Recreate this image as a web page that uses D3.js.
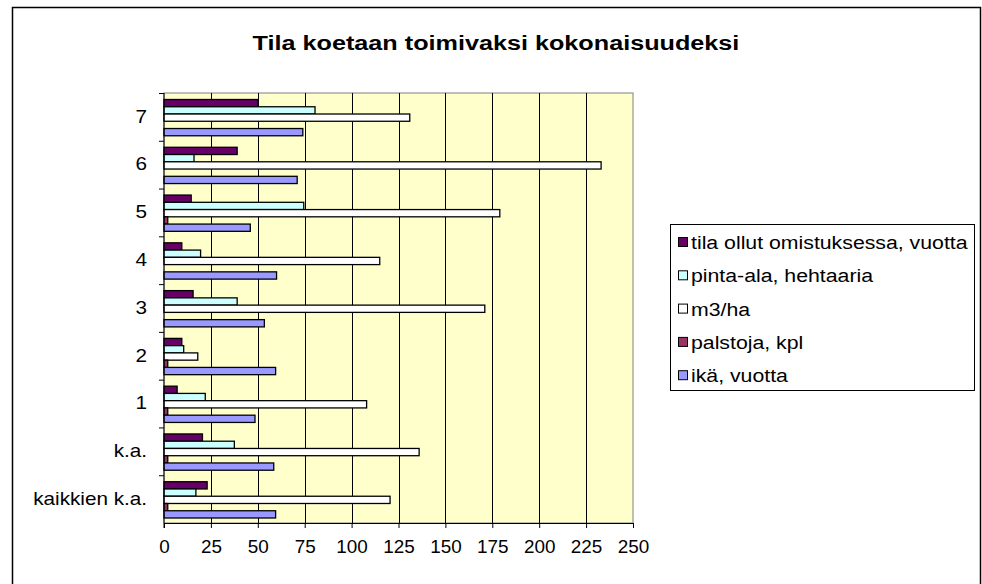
<!DOCTYPE html>
<html>
<head>
<meta charset="utf-8">
<script src="https://cdn.jsdelivr.net/npm/d3@7"></script>
<style>
  body { margin: 0; background: #fff; }
  svg text { font-family: "Liberation Sans", Arial, sans-serif; fill: #000; }
</style>
</head>
<body>
<svg id="chart" width="982" height="584"></svg>
<script>
//Categories, top to bottom as drawn
var categories = ["7", "6", "5", "4", "3", "2", "1", "k.a.", "kaikkien k.a."];

//Series values, one per category (null = no bar)
var tilaOllut = [50, 39, 14.5, 9.5, 15.5, 9.5, 7, 20.5, 23];
var pintaAla = [80.5, 16, 74.5, 19.5, 39, 10.5, 22, 37.5, 17];
var m3ha = [131, 233, 179, 115, 171, 18, 108, 136, 120.5];
var palstoja = [null, null, 2, null, null, 2, 2, 2, 2];
var ika = [74, 71, 46, 60, 53.5, 59.5, 48.5, 58.5, 59.5];

//Series names, top to bottom inside each group (also the legend order)
var seriesNames = ["tila ollut omistuksessa, vuotta", "pinta-ala, hehtaaria", "m3/ha", "palstoja, kpl", "ikä, vuotta"];
var seriesValues = [tilaOllut, pintaAla, m3ha, palstoja, ika];
var seriesColors = ["#660066", "#ccffff", "#ffffff", "#993366", "#9999ff"];

//Tick labels for the value axis
var xTicks = [0, 25, 50, 75, 100, 125, 150, 175, 200, 225, 250];

(function(){
    var svg = d3.select("#chart");

    //Plot area
    var pLeft = 164, pRight = 633, pTop = 93, pBottom = 523;

    //The original picture is a bit stretched sideways, so stretch the text too
    var stretch = function(sel, sx){
        sel.attr("transform", function(){
            var tx = +this.getAttribute("x") || 0;
            return "translate(" + tx + ",0) scale(" + sx + ",1) translate(" + (-tx) + ",0)";
        });
    };

    //Outer chart frame
    svg.append("rect")
        .attr("x", 12.5).attr("y", 7.5)
        .attr("width", 968).attr("height", 590)
        .attr("fill", "#fff").attr("stroke", "#000").attr("stroke-width", 1.5);

    //Title
    svg.append("text")
        .attr("x", 496).attr("y", 50)
        .attr("text-anchor", "middle")
        .style("font-size", "21px").style("font-weight", "bold")
        .text("Tila koetaan toimivaksi kokonaisuudeksi")
        .call(stretch, 1.2);

    var x = d3.scaleLinear().domain([0, 250]).range([pLeft, pRight]);
    var y0 = d3.scaleBand().domain(categories).range([pTop, pBottom]);
    var y1 = d3.scaleBand().domain(seriesNames).range([6.5, y0.bandwidth() - 5]);

    //Background of the plot
    svg.append("rect")
        .attr("x", pLeft).attr("y", pTop)
        .attr("width", pRight - pLeft).attr("height", pBottom - pTop)
        .attr("fill", "#ffffcc").attr("stroke", "#808080");

    //Vertical gridlines
    svg.append("g").selectAll("line")
        .data(xTicks.slice(1, -1))
        .join("line")
        .attr("x1", function(d){ return Math.round(x(d)) + 0.5; })
        .attr("x2", function(d){ return Math.round(x(d)) + 0.5; })
        .attr("y1", pTop).attr("y2", pBottom)
        .attr("stroke", "#000");

    //Bars
    var groups = svg.append("g").selectAll("g")
        .data(categories)
        .join("g")
        .attr("transform", function(d){ return "translate(0," + y0(d) + ")"; });

    groups.selectAll("rect")
        .data(function(c, i){
            return seriesNames.map(function(s, k){
                return { series: s, value: seriesValues[k][i], color: seriesColors[k] };
            }).filter(function(d){ return d.value != null; });
        })
        .join("rect")
        .attr("x", x(0))
        .attr("y", function(d){ return y1(d.series); })
        .attr("width", function(d){ return x(d.value) - x(0); })
        .attr("height", y1.bandwidth())
        .attr("fill", function(d){ return d.color; })
        .attr("stroke", "#000").attr("stroke-width", 1.3);

    //Value axis
    var xAxis = svg.append("g")
        .attr("transform", "translate(0," + pBottom + ")")
        .call(d3.axisBottom(x).tickValues(xTicks).tickSize(5).tickPadding(12));
    xAxis.selectAll("text").style("font-size", "18px").call(stretch, 1.05);
    xAxis.select(".domain").attr("stroke", "#000");

    //Category axis
    var yAxis = svg.append("g")
        .attr("transform", "translate(" + pLeft + ",0)")
        .call(d3.axisLeft(y0).tickSize(0).tickPadding(17));
    yAxis.selectAll("text").style("font-size", "18px").call(stretch, 1.15);
    yAxis.select(".domain").remove();
    yAxis.append("line")
        .attr("x1", 0).attr("x2", 0).attr("y1", pTop).attr("y2", pBottom + 5)
        .attr("stroke", "#000");
    yAxis.selectAll(".bandTick")
        .data(categories)
        .join("line")
        .attr("class", "bandTick")
        .attr("x1", -5).attr("x2", 0)
        .attr("y1", function(d){ return y0(d) + 0.5; })
        .attr("y2", function(d){ return y0(d) + 0.5; })
        .attr("stroke", "#000");

    //Legend
    var legend = svg.append("g");
    legend.append("rect")
        .attr("x", 670.5).attr("y", 224.5)
        .attr("width", 304).attr("height", 166)
        .attr("fill", "#fff").attr("stroke", "#000");

    var items = legend.selectAll("g.item")
        .data(seriesNames)
        .join("g")
        .attr("class", "item")
        .attr("transform", function(d, i){ return "translate(678," + (242 + i * 33.3) + ")"; });
    items.append("rect")
        .attr("x", 0.5).attr("y", -4.5)
        .attr("width", 9).attr("height", 9)
        .attr("fill", function(d, i){ return seriesColors[i]; })
        .attr("stroke", "#000");
    items.append("text")
        .attr("x", 13).attr("y", 7)
        .style("font-size", "19px")
        .text(function(d){ return d; })
        .call(stretch, 1.12);
})();
</script>
</body>
</html>
